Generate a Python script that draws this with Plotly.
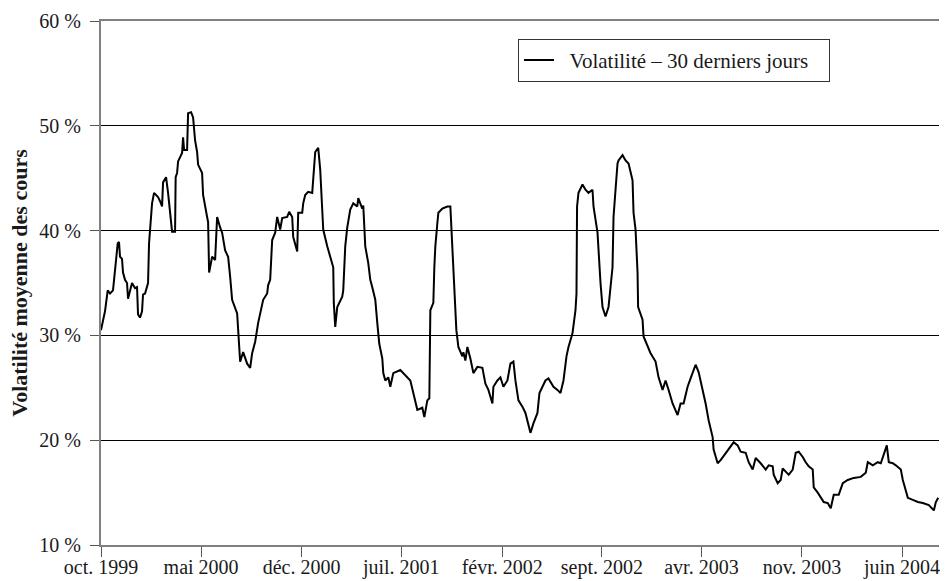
import datetime as dt
import plotly.graph_objects as go

# Time in months elapsed since 1 Oct 1999, and 30-day volatility (%)
months_elapsed = [
    0, 0.14, 0.28, 0.47, 0.63, 0.84, 0.98, 1.17, 1.26, 1.33, 1.47, 1.54, 1.68, 1.82, 1.89,
    2.03, 2.17, 2.38, 2.52, 2.59, 2.73, 2.87, 2.94, 3.08, 3.29, 3.36, 3.57, 3.71, 3.99,
    4.13, 4.27, 4.34, 4.55, 4.69, 4.90, 4.97, 5.18, 5.22, 5.32, 5.39, 5.67, 5.74, 5.81,
    6.02, 6.09, 6.30, 6.44, 6.58, 6.72, 6.79, 7.07, 7.14, 7.42, 7.49, 7.56, 7.77, 7.98,
    8.05, 8.12, 8.33, 8.47, 8.68, 8.89, 9.03, 9.17, 9.52, 9.59, 9.73, 9.94, 10.22, 10.43,
    10.57, 10.78, 10.92, 10.99, 11.34, 11.62, 11.69, 11.83, 11.97, 12.18, 12.32, 12.53,
    12.67, 13.02, 13.16, 13.37, 13.44, 13.72, 13.79, 14.07, 14.14, 14.28, 14.49, 14.77,
    14.98, 15.19, 15.33, 15.47, 15.54, 15.82, 16.03, 16.24, 16.28, 16.38, 16.52, 16.87,
    16.94, 17.08, 17.22, 17.43, 17.64, 17.92, 17.99, 18.27, 18.34, 18.48, 18.69, 18.83,
    18.97, 19.18, 19.32, 19.46, 19.67, 19.74, 19.88, 20.09, 20.23, 20.44, 20.93, 21.42,
    21.63, 21.84, 22.12, 22.47, 22.61, 22.82, 22.96, 23.03, 23.24, 23.31, 23.38, 23.52,
    23.59, 23.87, 24.22, 24.43, 24.57, 24.64, 24.71, 24.85, 24.99, 25.27, 25.34, 25.48,
    25.62, 25.83, 26.04, 26.32, 26.67, 26.88, 27.09, 27.37, 27.44, 27.72, 27.93, 28.14,
    28.42, 28.63, 28.84, 28.98, 29.19, 29.47, 29.68, 29.82, 30.03, 30.24, 30.52, 30.66,
    30.87, 31.08, 31.29, 31.64, 31.92, 32.13, 32.34, 32.55, 32.69, 32.97, 33.18, 33.25,
    33.29, 33.39, 33.67, 33.88, 34.09, 34.37, 34.44, 34.72, 34.93, 35.07, 35.28, 35.49,
    35.77, 35.84, 35.98, 36.12, 36.19, 36.47, 36.68, 36.89, 37.17, 37.24, 37.38, 37.52,
    37.56, 37.87, 37.94, 38.22, 38.43, 38.78, 38.99, 39.27, 39.48, 39.69, 39.97, 40.32,
    40.53, 40.74, 41.02, 41.23, 41.58, 41.79, 42.07, 42.28, 42.49, 42.77, 42.84, 43.12,
    43.33, 43.68, 44.03, 44.24, 44.52, 44.73, 45.08, 45.29, 45.57, 45.78, 46.13, 46.48,
    46.69, 46.97, 47.04, 47.32, 47.53, 47.67, 47.88, 48.09, 48.37, 48.58, 48.79, 49.07,
    49.28, 49.49, 49.77, 49.84, 50.12, 50.33, 50.54, 50.82, 51.03, 51.24, 51.59, 51.87,
    52.22, 52.64, 53.13, 53.48, 53.62, 53.97, 54.32, 54.53, 54.74, 54.95, 55.09, 55.37,
    55.58, 55.93, 56.07, 56.28, 56.42, 56.77, 57.12, 57.47, 57.89, 58.24, 58.38, 58.55,
]

volatility = [
    30.5, 31.5, 32.3, 34.3, 34.0, 34.3, 36.5, 38.8, 38.9, 37.5, 37.3, 36.0, 35.3, 35.0, 33.5,
    34.2, 35.0, 34.5, 34.6, 32.0, 31.7, 32.3, 33.9, 34.0, 35.0, 38.8, 42.6, 43.6, 43.2,
    42.8, 42.3, 44.6, 45.1, 43.6, 40.7, 39.9, 39.9, 45.1, 45.5, 46.6, 47.4, 48.9, 47.7,
    47.7, 51.2, 51.3, 50.8, 48.6, 47.5, 46.3, 45.5, 43.4, 41.3, 40.8, 36.0, 37.5, 37.2,
    39.0, 41.3, 40.3, 39.8, 38.1, 37.5, 35.6, 33.4, 32.1, 30.2, 27.5, 28.4, 27.3, 26.9,
    28.3, 29.4, 30.5, 31.2, 33.4, 34.0, 34.8, 35.3, 39.1, 39.8, 41.3, 40.1,
    41.2, 41.3, 41.8, 41.3, 39.4, 38.0, 41.7, 41.7, 42.6, 43.4, 43.7, 43.6,
    47.5, 47.9, 45.8, 42.3, 40.1, 38.5, 37.5, 36.5, 33.1, 30.8, 32.7, 33.7,
    34.3, 38.5, 40.3, 42.0, 42.6, 42.3, 43.1, 42.1, 42.4, 38.5, 36.9, 35.3,
    34.6, 33.4, 31.2, 29.2, 27.8, 26.4, 25.7, 26.0, 25.1, 26.4, 26.7, 26.0,
    25.7, 24.5, 22.9, 23.1, 22.2, 23.8, 24.0, 32.4, 33.1, 36.5, 38.5, 40.7,
    41.7, 42.1, 42.3, 42.3, 38.5, 37.2, 33.9, 30.5, 28.9, 28.0, 28.4, 27.6,
    28.9, 27.8, 26.4, 27.0, 26.9, 25.4, 24.8, 23.5, 25.1, 25.7, 26.0, 25.1,
    25.7, 27.3, 27.5, 25.7, 23.8, 23.2, 22.6, 21.9, 20.7, 21.6, 22.6, 24.5,
    25.1, 25.7, 25.9, 25.1, 24.8, 24.5, 25.7, 28.0, 28.9, 30.2, 32.4, 34.0,
    42.3, 43.6, 44.4, 43.9, 43.6, 43.9, 42.3, 39.8, 35.0, 32.7, 31.8, 32.7,
    36.5, 41.3, 43.9, 46.4, 46.7, 47.2, 46.7, 46.4, 44.8, 41.7, 40.1, 36.0,
    32.7, 31.5, 29.9, 28.9, 28.3, 27.5, 26.0, 24.8, 25.7, 24.8, 23.5, 22.4,
    23.5, 23.5, 25.1, 25.9, 27.2, 26.5, 24.8, 23.5, 21.9, 20.3, 19.1, 17.8,
    18.1, 18.8, 19.4, 19.8, 19.5, 18.9, 18.8, 17.9, 17.2, 18.3, 17.8, 17.2,
    17.6, 17.5, 16.7, 15.9, 16.2, 17.3, 17.0, 16.7, 17.2, 18.8, 18.9, 18.4,
    17.9, 17.5, 17.2, 15.5, 15.0, 14.6, 14.1, 14.0, 13.5, 14.8, 14.8, 15.9,
    16.2, 16.4, 16.5, 16.9, 17.9, 17.6, 17.9, 17.8, 18.6, 19.5, 17.9, 17.8,
    17.6, 17.2, 16.2, 15.3, 14.5, 14.3, 14.1, 14.0, 13.8, 13.3, 14.1, 14.5,
]

tick_dates = ["1999-10-01", "2000-05-01", "2000-12-01", "2001-07-01", "2002-02-01",
              "2002-09-01", "2003-04-01", "2003-11-01", "2004-06-01"]
tick_labels = ["oct. 1999", "mai 2000", "déc. 2000", "juil. 2001", "févr. 2002",
               "sept. 2002", "avr. 2003", "nov. 2003", "juin 2004"]

y_ticks = [10, 20, 30, 40, 50, 60]
y_labels = [f"{v} %" for v in y_ticks]

series_name = "Volatilité – 30 derniers jours"

start = dt.datetime(1999, 10, 1)
DAYS_PER_MONTH = 30.4375
dates = [start + dt.timedelta(days=m * DAYS_PER_MONTH) for m in months_elapsed]
x_end = start + dt.timedelta(days=58.6 * DAYS_PER_MONTH)

FONT = "Liberation Serif, Times New Roman, serif"
TXT = "#1a1a1a"
NB = "\u00a0"

fig = go.Figure()
fig.add_trace(go.Scatter(
    x=dates, y=volatility, mode="lines",
    name=NB * 2 + series_name + NB * 3,
    line=dict(color="black", width=2),
))

fig.update_layout(
    width=946, height=581,
    margin=dict(l=101, r=7, t=21, b=36, autoexpand=False),
    paper_bgcolor="white", plot_bgcolor="white",
    font=dict(family=FONT, size=20, color=TXT),
    showlegend=True,
    legend=dict(
        x=0.4976, y=0.966, xanchor="left", yanchor="top",
        bordercolor="#333", borderwidth=1, bgcolor="white",
        font=dict(family=FONT, size=21, color=TXT),
        itemwidth=30, tracegroupgap=0,
    ),
)

fig.update_xaxes(
    type="date", range=[start, x_end], automargin=False,
    tickvals=tick_dates, ticktext=tick_labels,
    showgrid=False, zeroline=False,
    showline=True, linecolor="#808080", linewidth=2, mirror=True,
    ticks="outside", ticklen=10, tickcolor="#555", tickwidth=1,
    ticklabelstandoff=-7,
    tickfont=dict(family=FONT, size=20, color=TXT),
)
fig.update_yaxes(
    range=[10, 60], tickvals=y_ticks, ticktext=y_labels, automargin=False,
    showgrid=True, gridcolor="black", gridwidth=1,
    zeroline=False,
    showline=True, linecolor="#808080", linewidth=2,
    ticks="outside", ticklen=9, tickcolor="#555", tickwidth=1,
    ticklabelstandoff=5,
    tickfont=dict(family=FONT, size=20, color=TXT),
    title=dict(text="<b>Volatilité moyenne des cours</b>",
               font=dict(family=FONT, size=22, color=TXT), standoff=6),
)

fig.write_html(
    "out.html",
    config={"displayModeBar": False, "staticPlot": True},
    post_script="document.body.style.margin='0px';document.body.style.padding='0px';",
)
